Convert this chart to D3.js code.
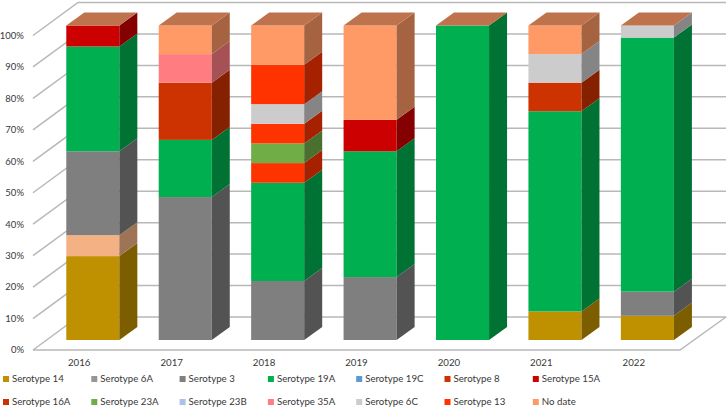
<!DOCTYPE html>
<html><head><meta charset="utf-8">
<script src="https://cdn.jsdelivr.net/npm/d3@7"></script>
<style>html,body{margin:0;padding:0;background:#fff}svg{display:block}text{font-family:Lato,sans-serif;fill:#383838}</style>
</head><body><svg id="c" width="727" height="407"></svg>
<script>
const years = ["2016","2017","2018","2019","2020","2021","2022"];
const serotype14   = [26.67,0,0,0,0,9.09,7.69];
const unlabelledA  = [6.67,0,0,0,0,0,0];
const serotype6A   = [0,0,0,0,0,0,0];
const serotype3    = [26.67,45.45,18.75,20,0,0,7.69];
const serotype19A  = [33.32,18.18,31.25,40,100,63.64,80.77];
const serotype19C  = [0,0,0,0,0,0,0];
const unlabelledB  = [0,0,6.25,0,0,0,0];
const serotype8    = [0,18.18,0,0,0,9.09,0];
const serotype15A  = [6.67,0,0,10,0,0,0];
const serotype16A  = [0,0,0,0,0,0,0];
const serotype23A  = [0,0,6.25,0,0,0,0];
const unlabelledC  = [0,0,6.25,0,0,0,0];
const serotype23B  = [0,0,0,0,0,0,0];
const serotype35A  = [0,9.09,0,0,0,0,0];
const serotype6C   = [0,0,6.25,0,0,9.09,3.85];
const serotype13   = [0,0,12.5,0,0,0,0];
const noDate       = [0,9.1,12.5,30,0,9.09,0];
const yTicks = [0,10,20,30,40,50,60,70,80,90,100];

const series = [
 {name:"Serotype 14",  values:serotype14,  color:"#BF9000", legend:true},
 {name:"Unlabelled A", values:unlabelledA, color:"#F4B183", legend:false},
 {name:"Serotype 6A",  values:serotype6A,  color:"#969696", legend:true},
 {name:"Serotype 3",   values:serotype3,   color:"#7F7F7F", legend:true},
 {name:"Serotype 19A", values:serotype19A, color:"#00B050", legend:true},
 {name:"Serotype 19C", values:serotype19C, color:"#5B9BD5", legend:true},
 {name:"Unlabelled B", values:unlabelledB, color:"#FF3300", legend:false},
 {name:"Serotype 8",   values:serotype8,   color:"#CC3300", legend:true},
 {name:"Serotype 15A", values:serotype15A, color:"#CC0000", legend:true},
 {name:"Serotype 16A", values:serotype16A, color:"#CC3300", legend:true},
 {name:"Serotype 23A", values:serotype23A, color:"#70AD47", legend:true},
 {name:"Unlabelled C", values:unlabelledC, color:"#FF3300", legend:false},
 {name:"Serotype 23B", values:serotype23B, color:"#A9C4E6", legend:true},
 {name:"Serotype 35A", values:serotype35A, color:"#FF7C80", legend:true},
 {name:"Serotype 6C",  values:serotype6C,  color:"#CCCCCC", legend:true},
 {name:"Serotype 13",  values:serotype13,  color:"#FF3300", legend:true},
 {name:"No date",      values:noDate,      color:"#FF9966", legend:true}
];

const svg = d3.select("#c");
const x = d3.scaleBand().domain(years).range([33,680]).paddingInner(.426).paddingOuter(.213);
const y = d3.scaleLinear().domain([0,100]).range([350,35.5]);
const floor = {dx:45, dy:-33}, barOff = {dx:13.6, dy:-10}, barDepth = {dx:18, dy:-13};
const shade = (c,k)=>{const r=d3.rgb(c);return d3.rgb(r.r*k,r.g*k,r.b*k).formatHex();};
const line = d3.line();

// walls and floor
const grid = svg.append("g").attr("fill","none").attr("stroke","#B8B8B8").attr("stroke-width",1.5);
yTicks.forEach(t=>{
  const yy=y(t);
  grid.append("path").attr("d",line([[33,yy],[33+floor.dx,yy+floor.dy],[726,yy+floor.dy]]));
});
grid.append("path").attr("d",line([[33,y(0)],[680,y(0)],[680+floor.dx+1,y(0)+floor.dy]]));

// tick labels
const fs = 9.7;
svg.append("g").selectAll("text").data(yTicks).join("text")
  .attr("x",24).attr("y",d=>y(d)).attr("dy","0.35em").attr("text-anchor","end")
  .attr("font-size",9.5).text(d=>d3.format("d")(d)+"%");
svg.append("g").selectAll("text").data(years).join("text")
  .attr("x",d=>x(d)+x.bandwidth()/2).attr("y",363).attr("dy","0.35em").attr("text-anchor","middle")
  .attr("font-size",fs).text(d=>d);

// stacked bars
const rows = years.map((yr,i)=>{const o={year:yr};series.forEach(s=>o[s.name]=s.values[i]);return o;});
const layers = d3.stack().keys(series.map(s=>s.name))(rows);
const w = x.bandwidth();
layers.forEach((layer,si)=>{
  const col = series[si].color;
  layer.forEach(d=>{
    if(d[1]-d[0]<=0) return;
    const left = x(d.data.year)+barOff.dx, right = left+w;
    const top = y(d[1])+barOff.dy, bot = y(d[0])+barOff.dy;
    svg.append("rect").attr("x",left).attr("y",top).attr("width",w).attr("height",bot-top).attr("fill",col);
    svg.append("path").attr("fill",shade(col,.65))
      .attr("d",line([[right,top],[right+barDepth.dx,top+barDepth.dy],[right+barDepth.dx,bot+barDepth.dy],[right,bot]])+"Z");
  });
});
// top faces (all painted with the last series' shaded colour)
const lastCol = series[series.length-1].color;
years.forEach(yr=>{
  const left=x(yr)+barOff.dx, right=left+w, top=y(100)+barOff.dy;
  svg.append("path").attr("fill",shade(lastCol,.75))
    .attr("d",line([[left,top],[left+barDepth.dx,top+barDepth.dy],[right+barDepth.dx,top+barDepth.dy],[right,top]])+"Z");
});

// legend
const legendItems = series.filter(s=>s.legend);
const lx = d3.scaleLinear().domain([0,1]).range([3,91.3]);
const ly = d3.scaleLinear().domain([0,1]).range([379,402]);
const lg = svg.append("g").selectAll("g").data(legendItems).join("g")
  .attr("transform",(d,i)=>`translate(${lx(i%7)},${ly(Math.floor(i/7))})`);
lg.append("rect").attr("y",-3).attr("width",6).attr("height",6).attr("fill",d=>d.color);
lg.append("text").attr("x",9).attr("dy","0.35em").attr("font-size",fs).text(d=>d.name);
</script></body></html>
